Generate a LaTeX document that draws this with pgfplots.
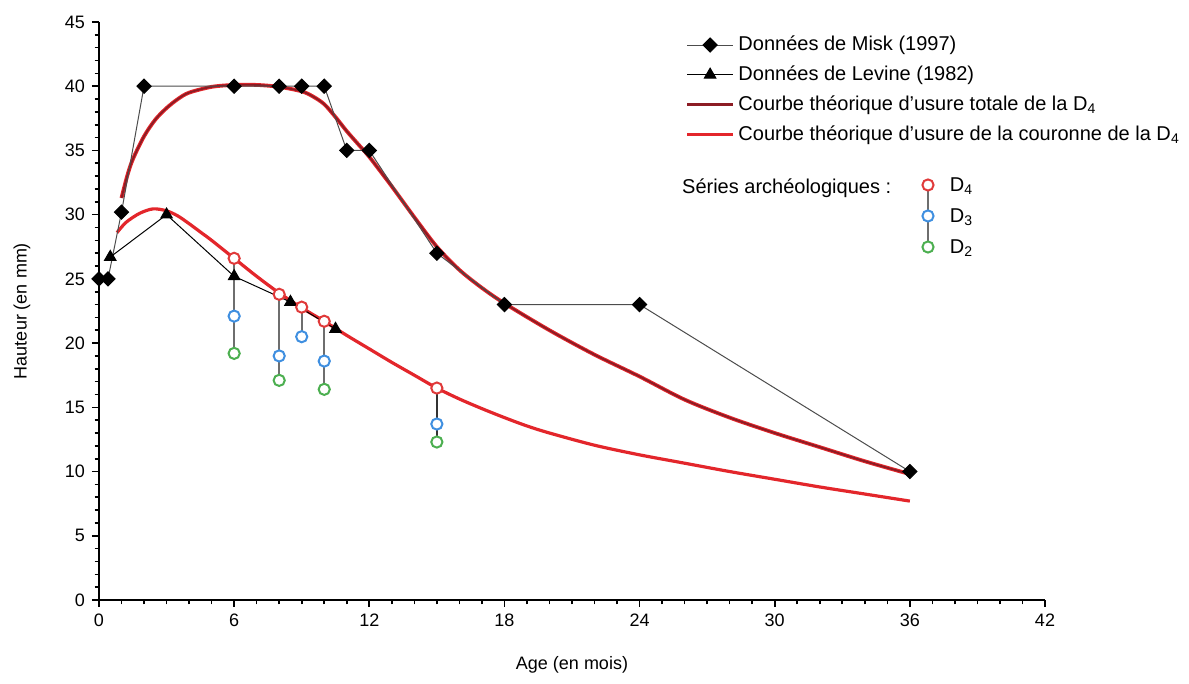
\documentclass[border=0pt]{standalone}
\usepackage{fontspec}
\setmainfont{Liberation Sans}
\usepackage{pgfplots}
\pgfplotsset{compat=1.18}
\definecolor{redc}{HTML}{E3262B}
\definecolor{darkredc}{HTML}{8C1C24}
\definecolor{d4red}{HTML}{E03A3A}
\definecolor{d3blue}{HTML}{3F8FE0}
\definecolor{d2green}{HTML}{4CAF50}
\definecolor{stemgray}{HTML}{6E6E6E}
\begin{document}
\begin{tikzpicture}
\useasboundingbox (-49.5pt,-42pt) rectangle (545pt,300pt);
\begin{axis}[
 at={(0,0)}, anchor=south west,
 scale only axis, width=473pt, height=289pt,
 xmin=0, xmax=42, ymin=0, ymax=45,
 axis lines*=left, axis line style={line width=1pt},
 xtick={0,6,...,42}, ytick={0,5,...,45},
 minor x tick num=5, minor y tick num=4,
 tick align=outside, major tick length=3.5pt, minor tick length=2.2pt,
 tick style={black, line width=0.8pt},
 tick label style={font=\fontsize{9}{10}\selectfont},
 /pgf/number format/assume math mode=true,
 xlabel={Age (en mois)}, ylabel={Hauteur (en mm)},
 label style={font=\fontsize{9}{10}\selectfont},
 xlabel style={at={(axis description cs:0.5,-0.1125)}, anchor=center},
 ylabel style={at={(axis description cs:-0.0814,0.5)}, anchor=center},
 clip=false,
 legend cell align=left,
 legend image code/.code={\draw[mark repeat=2,mark phase=2] plot coordinates {(0cm,0cm) (0.4cm,0cm) (0.8cm,0cm)};},
 legend style={draw=none, fill=none, at={(axis description cs:0.6135,0.99)}, anchor=north west,
   font=\fontsize{10}{12}\selectfont, row sep=2pt},
]
\addlegendimage{black!70, line width=0.5pt, mark=square*, mark size=2.5pt, mark options={rotate=45, fill=black, draw=black, solid}}
\addlegendentry{Données de Misk (1997)}
\addlegendimage{black, line width=0.5pt, mark=triangle*, mark size=3.3pt, mark options={fill=black, draw=black}}
\addlegendentry{Données de Levine (1982)}
\addlegendimage{darkredc, line width=1.6pt}
\addlegendentry{Courbe théorique d'usure totale de la D\textsubscript{4}}
\addlegendimage{redc, line width=1.6pt}
\addlegendentry{Courbe théorique d'usure de la couronne de la D\textsubscript{4}}

% theoretical curves
\addplot[redc, line width=1.9pt, smooth, forget plot] coordinates {
(1.0,31.3) (1.25,33.0) (1.5,34.3) (2,36.1) (2.5,37.4) (3,38.3) (3.5,39.0) (4,39.5) (5,39.95) (6,40.1) (7,40.1) (8,39.95) (9,39.6) (9.5,39.2) (10,38.6) (10.5,37.6) (11,36.5) (11.5,35.5) (12,34.5) (13,32.2) (14,29.8) (15,27.5) (16,25.7) (17,24.3) (18,23.1) (20,21.0) (22,19.1) (24,17.4) (26,15.6) (28,14.2) (30,13.0) (32,11.9) (34,10.8) (36,9.8)};
\addplot[darkredc, line width=0.9pt, smooth, forget plot] coordinates {
(1.0,31.3) (1.25,33.0) (1.5,34.3) (2,36.1) (2.5,37.4) (3,38.3) (3.5,39.0) (4,39.5) (5,39.95) (6,40.1) (7,40.1) (8,39.95) (9,39.6) (9.5,39.2) (10,38.6) (10.5,37.6) (11,36.5) (11.5,35.5) (12,34.5) (13,32.2) (14,29.8) (15,27.5) (16,25.7) (17,24.3) (18,23.1) (20,21.0) (22,19.1) (24,17.4) (26,15.6) (28,14.2) (30,13.0) (32,11.9) (34,10.8) (36,9.8)};
\addplot[redc, line width=1.6pt, smooth, forget plot] coordinates {
(0.8,28.6) (1.2,29.4) (1.8,30.1) (2.4,30.45) (3,30.3) (3.5,29.9) (4,29.3) (4.5,28.65) (5,28.0) (6,26.6) (7,25.2) (8,23.9) (9,22.75) (10,21.7) (11,20.6) (12,19.55) (13,18.5) (14,17.5) (15,16.5) (16,15.65) (17,14.9) (18,14.2) (19,13.55) (20,13.0) (22,12.05) (24,11.3) (26,10.65) (28,10.0) (30,9.4) (32,8.8) (34,8.25) (36,7.7)};

% Misk
\addplot[black!70, line width=0.5pt, mark=square*, mark size=2.5pt, mark options={rotate=45, fill=black, draw=black, solid}, forget plot] coordinates {
(0,25) (0.4,25) (1,30.2) (2,40) (6,40) (8,40) (9,40) (10,40) (11,35) (12,35) (15,27) (18,23) (24,23) (36,10)};
% Levine
\addplot[black, line width=0.5pt, mark=triangle*, mark size=3.3pt, mark options={fill=black, draw=black}, forget plot] coordinates {
(0.5,26.7) (3,30) (6,25.2) (8.5,23.2) (10.5,21.1)};

% stems
\addplot[stemgray, line width=0.9pt, forget plot] coordinates {(6,26.6) (6,19.2)};
\addplot[stemgray, line width=0.9pt, forget plot] coordinates {(8,23.8) (8,17.1)};
\addplot[stemgray, line width=0.9pt, forget plot] coordinates {(9,22.8) (9,20.5)};
\addplot[stemgray, line width=0.9pt, forget plot] coordinates {(10,21.7) (10,16.4)};
\addplot[black!80, line width=0.9pt, forget plot] coordinates {(15,16.5) (15,12.3)};

% archaeological series
\addplot[only marks, mark=*, mark size=2.8pt, mark options={draw=d4red, fill=white, line width=1pt}, forget plot] coordinates {
(6,26.6) (8,23.8) (9,22.8) (10,21.7) (15,16.5)};
\addplot[only marks, mark=*, mark size=2.8pt, mark options={draw=d3blue, fill=white, line width=1pt}, forget plot] coordinates {
(6,22.1) (8,19.0) (9,20.5) (10,18.6) (15,13.7)};
\addplot[only marks, mark=*, mark size=2.8pt, mark options={draw=d2green, fill=white, line width=1pt}, forget plot] coordinates {
(6,19.2) (8,17.1) (10,16.4) (15,12.3)};

\node[anchor=west, font=\fontsize{10}{12}\selectfont] at (axis description cs:0.609,0.713) {Séries archéologiques :};
\end{axis}

% key for the archaeological series (drawn in a hidden 0..1 axis)
\begin{axis}[
 at={(0,0)}, anchor=south west,
 scale only axis, width=473pt, height=289pt,
 xmin=0, xmax=1, ymin=0, ymax=1, hide axis, clip=false,
]
\addplot[stemgray, line width=0.9pt, forget plot] coordinates {(0.8763,0.718) (0.8763,0.6107)};
\addplot[only marks, mark=*, mark size=2.8pt, mark options={draw=d4red, fill=white, line width=1pt}, forget plot] coordinates {(0.8763,0.718)};
\addplot[only marks, mark=*, mark size=2.8pt, mark options={draw=d3blue, fill=white, line width=1pt}, forget plot] coordinates {(0.8763,0.6644)};
\addplot[only marks, mark=*, mark size=2.8pt, mark options={draw=d2green, fill=white, line width=1pt}, forget plot] coordinates {(0.8763,0.6107)};
\node[anchor=west, font=\fontsize{10}{12}\selectfont] at (axis cs:0.892,0.716) {D\textsubscript{4}};
\node[anchor=west, font=\fontsize{10}{12}\selectfont] at (axis cs:0.892,0.6624) {D\textsubscript{3}};
\node[anchor=west, font=\fontsize{10}{12}\selectfont] at (axis cs:0.892,0.6087) {D\textsubscript{2}};
\end{axis}
\end{tikzpicture}
\end{document}
